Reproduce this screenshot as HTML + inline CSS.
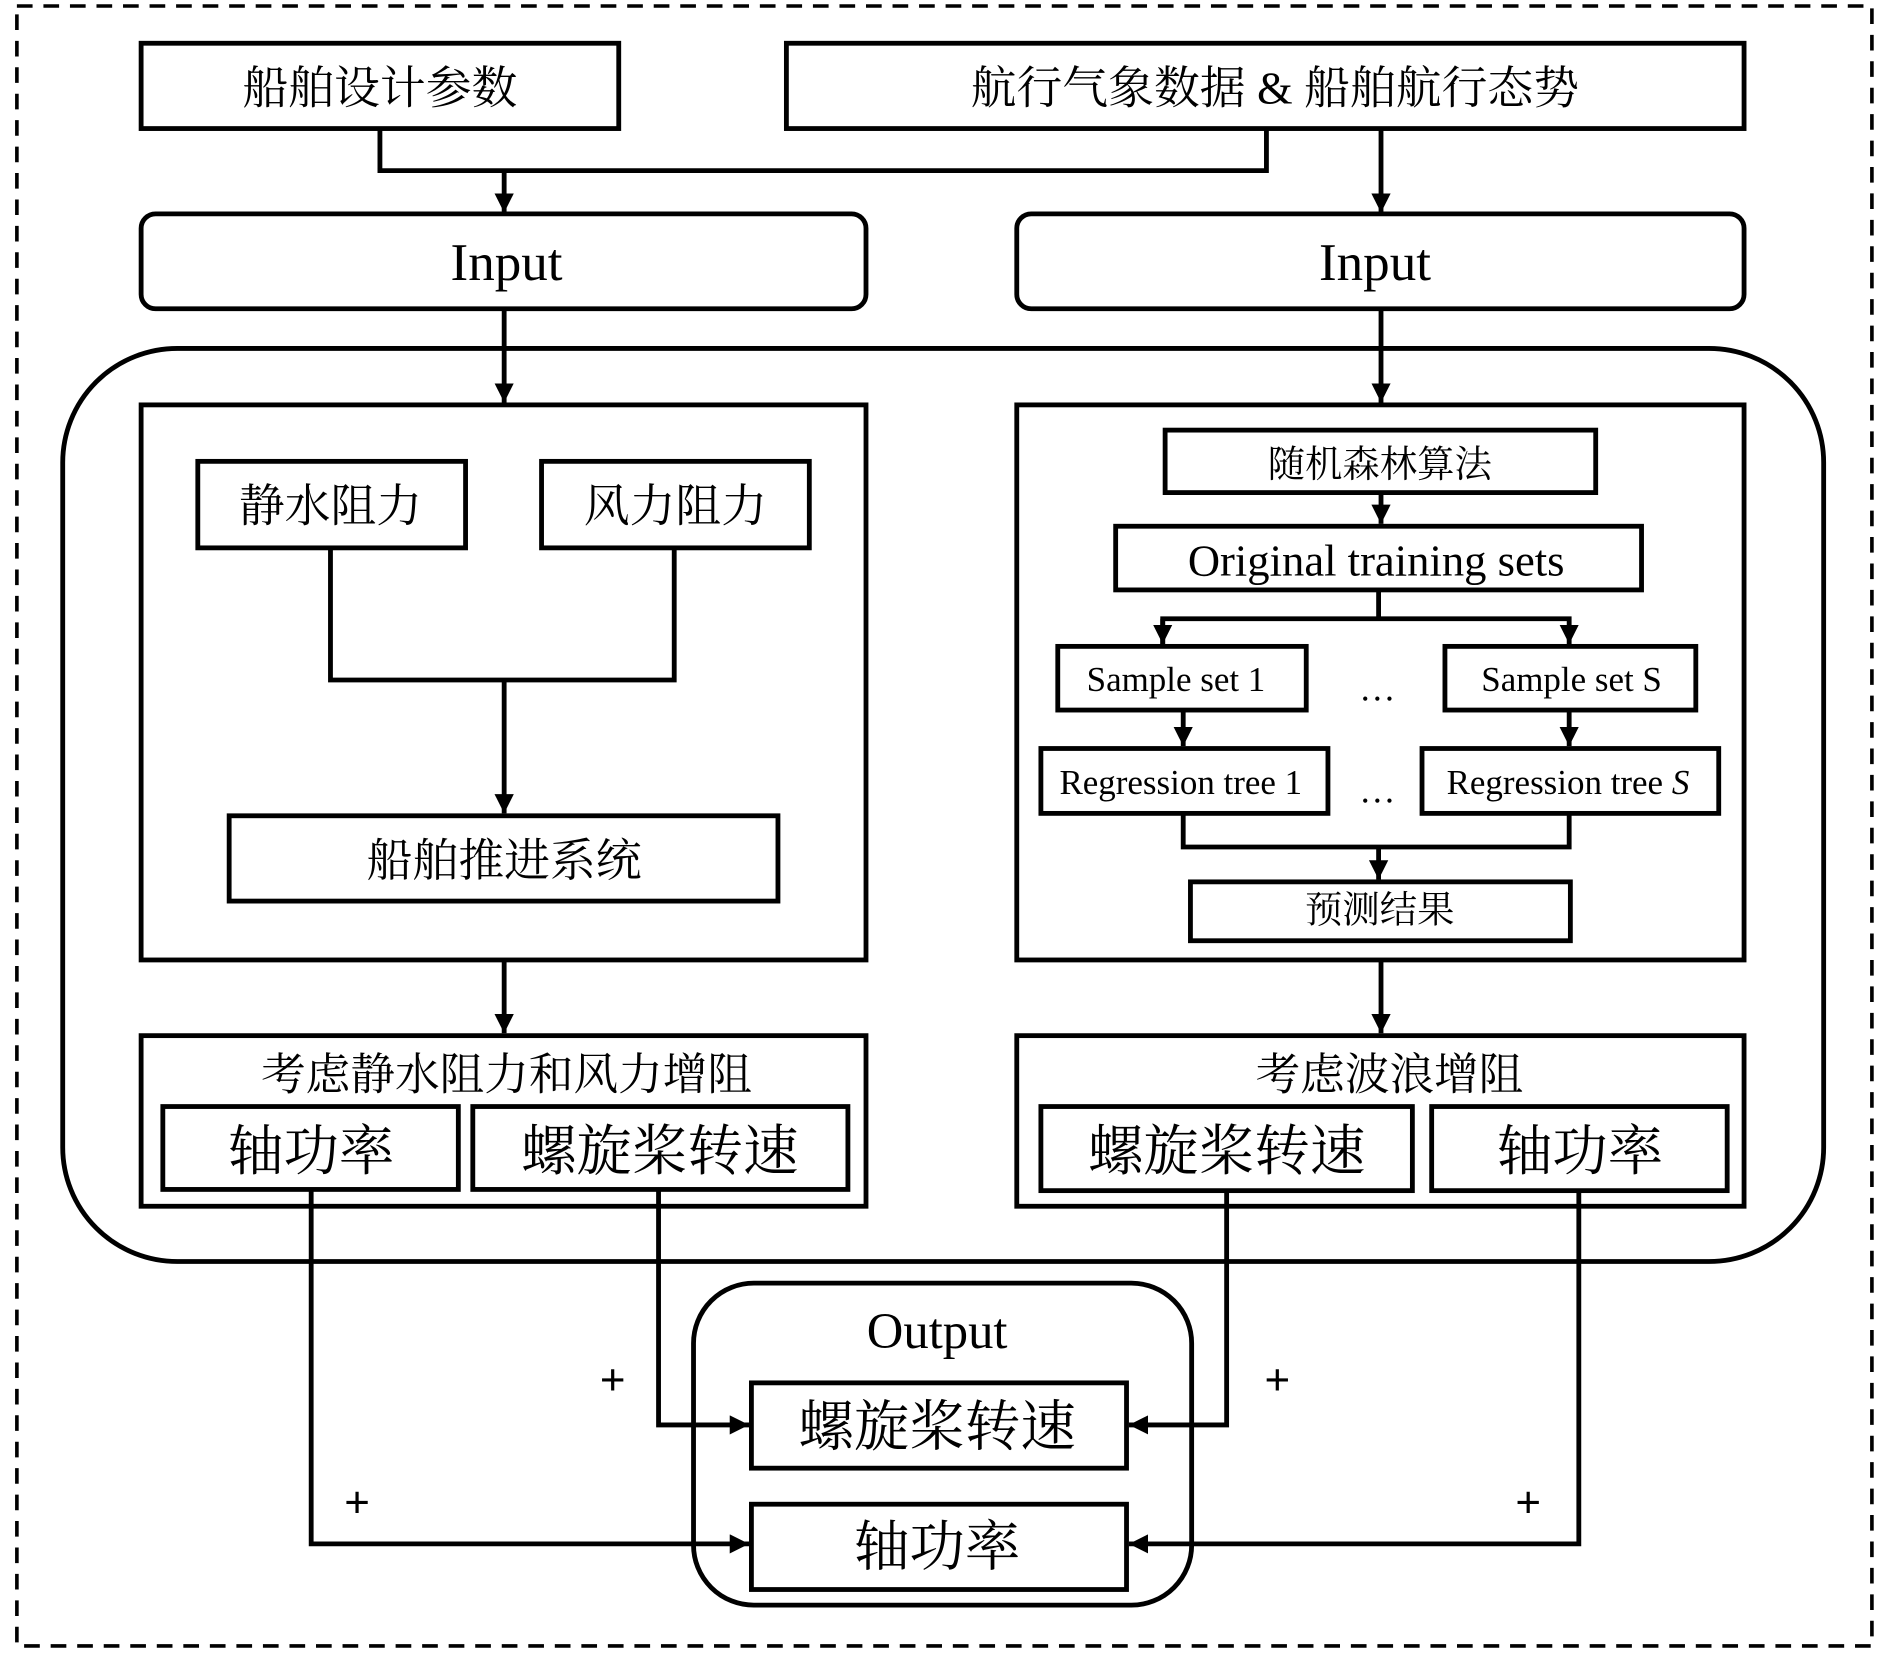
<!DOCTYPE html>
<html><head><meta charset="utf-8"><style>
html,body{margin:0;padding:0;background:#fff;}
svg{display:block;}
text{font-family:"Liberation Serif","Noto Serif CJK SC","Noto Sans CJK SC",serif;fill:#000;}
</style></head><body>
<svg width="1890" height="1658" viewBox="0 0 1567 1380" preserveAspectRatio="none" xmlns="http://www.w3.org/2000/svg">
<defs>
<marker id="a" viewBox="0 0 10 10" refX="10" refY="5" markerWidth="4" markerHeight="4" orient="auto" markerUnits="strokeWidth">
<path d="M0,0 L10,5 L0,10 z" fill="#000"/></marker>
</defs>
<rect x="0" y="0" width="1567" height="1380" fill="#fff"/>
<rect x="14" y="5" width="1538" height="1365" fill="none" stroke="#000" stroke-width="3" stroke-dasharray="13,9"/>
<g fill="none" stroke="#000" stroke-width="4">
<rect x="117" y="36" width="396" height="71"/>
<rect x="652" y="36" width="794" height="71"/>
<rect x="117" y="178" width="601" height="79" rx="12"/>
<rect x="843" y="178" width="603" height="79" rx="12"/>
<rect x="52" y="290" width="1460" height="760" rx="95"/>
<rect x="117" y="337" width="601" height="462"/>
<rect x="164" y="384" width="222" height="72"/>
<rect x="449" y="384" width="222" height="72"/>
<rect x="190" y="679" width="455" height="71"/>
<rect x="843" y="337" width="603" height="462"/>
<rect x="966" y="358" width="357" height="52"/>
<rect x="925" y="438" width="436" height="53"/>
<rect x="877" y="538" width="206" height="53"/>
<rect x="1198" y="538" width="208" height="53"/>
<rect x="863" y="623" width="238" height="54"/>
<rect x="1179" y="623" width="246" height="54"/>
<rect x="987" y="734" width="315" height="49"/>
<rect x="117" y="862" width="601" height="142"/>
<rect x="135" y="921" width="245" height="69"/>
<rect x="392" y="921" width="311" height="69"/>
<rect x="843" y="862" width="603" height="142"/>
<rect x="863" y="921" width="308" height="70"/>
<rect x="1187" y="921" width="245" height="70"/>
<rect x="575" y="1068" width="413" height="268" rx="50"/>
<rect x="623" y="1151" width="311" height="71"/>
<rect x="623" y="1252" width="311" height="71"/>
</g>
<g fill="none" stroke="#000" stroke-width="4">
<polyline points="315,107 315,142 1050,142 1050,107"/>
<line x1="418" y1="142" x2="418" y2="177" marker-end="url(#a)"/>
<line x1="1145" y1="107" x2="1145" y2="177" marker-end="url(#a)"/>
<line x1="418" y1="257" x2="418" y2="335" marker-end="url(#a)"/>
<line x1="1145" y1="257" x2="1145" y2="335" marker-end="url(#a)"/>
<polyline points="274,456 274,566 559,566 559,456"/>
<line x1="418" y1="566" x2="418" y2="677" marker-end="url(#a)"/>
<line x1="1145" y1="410" x2="1145" y2="436" marker-end="url(#a)"/>
<line x1="1143" y1="491" x2="1143" y2="515"/>
<polyline points="964,536 964,515 1301,515 1301,536" marker-end="url(#a)"/>
<line x1="964" y1="515" x2="964" y2="536" marker-end="url(#a)"/>
<line x1="981" y1="591" x2="981" y2="621" marker-end="url(#a)"/>
<line x1="1301" y1="591" x2="1301" y2="621" marker-end="url(#a)"/>
<polyline points="981,677 981,705 1301,705 1301,677"/>
<line x1="1143" y1="705" x2="1143" y2="732" marker-end="url(#a)"/>
<line x1="418" y1="799" x2="418" y2="860" marker-end="url(#a)"/>
<line x1="1145" y1="799" x2="1145" y2="860" marker-end="url(#a)"/>
<polyline points="258,990 258,1285 621,1285" marker-end="url(#a)"/>
<polyline points="546,990 546,1186 621,1186" marker-end="url(#a)"/>
<polyline points="1017,991 1017,1186 936,1186" marker-end="url(#a)"/>
<polyline points="1309,991 1309,1285 936,1285" marker-end="url(#a)"/>
</g>
<g text-anchor="middle">
<text x="315" y="86" font-size="38">船舶设计参数</text>
<text x="1057" y="86" font-size="38">航行气象数据 &amp; 船舶航行态势</text>
<text x="420" y="233" font-size="44">Input</text>
<text x="1140" y="233" font-size="44">Input</text>
<text x="274" y="434" font-size="38">静水阻力</text>
<text x="560" y="434" font-size="38">风力阻力</text>
<text x="418" y="729" font-size="38">船舶推进系统</text>
<text x="1144" y="397" font-size="31">随机森林算法</text>
<text x="1141" y="479" font-size="37">Original training sets</text>
<text x="975" y="575" font-size="29">Sample set 1</text>
<text x="1303" y="575" font-size="29">Sample set S</text>
<text x="1142" y="583" font-size="30">…</text>
<text x="979" y="661" font-size="29">Regression tree 1</text>
<text x="1300" y="661" font-size="29">Regression tree <tspan font-style="italic">S</tspan></text>
<text x="1142" y="668" font-size="30">…</text>
<text x="1144" y="768" font-size="31">预测结果</text>
<text x="420" y="907" font-size="37">考虑静水阻力和风力增阻</text>
<text x="258" y="974" font-size="46">轴功率</text>
<text x="547" y="974" font-size="46">螺旋桨转速</text>
<text x="1152" y="907" font-size="37">考虑波浪增阻</text>
<text x="1017" y="974" font-size="46">螺旋桨转速</text>
<text x="1310" y="974" font-size="46">轴功率</text>
<text x="777" y="1122" font-size="42">Output</text>
<text x="777" y="1203" font-size="46">螺旋桨转速</text>
<text x="777" y="1303" font-size="46">轴功率</text>
<text x="508" y="1161" font-size="38" font-weight="bold">+</text>
<text x="1059" y="1161" font-size="38" font-weight="bold">+</text>
<text x="296" y="1263" font-size="38" font-weight="bold">+</text>
<text x="1267" y="1263" font-size="38" font-weight="bold">+</text>
</g>
</svg>
</body></html>
